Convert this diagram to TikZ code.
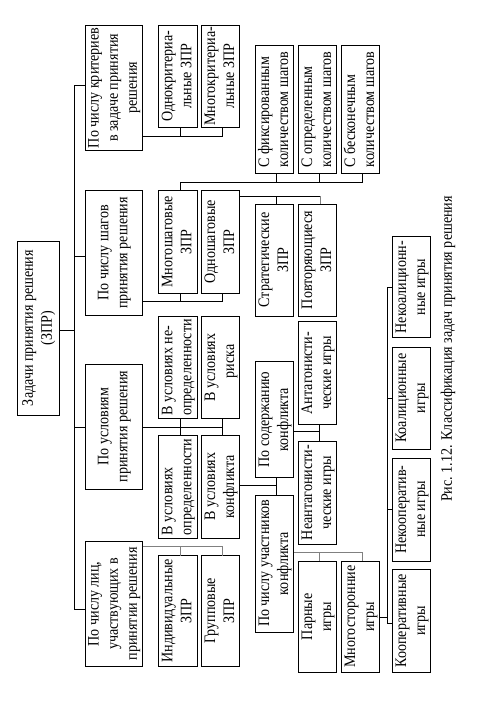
\documentclass[tikz,border=0pt]{standalone}
\usepackage{fontspec}
\setmainfont{Liberation Serif}[FakeStretch=0.88]
\newcommand{\zt}[2][c]{\rotatebox{90}{\begin{tabular}{@{}#1@{}}#2\end{tabular}}}
\newcommand{\zb}[7][c]{\node[zbox, minimum width={(#5-#3)*0.75pt}, minimum height={(#6-#4)*0.75pt}] (#2) at ({(#3+#5)/2},{(#4+#6)/2}) {\zt[#1]{#7}};}
\begin{document}
\begin{tikzpicture}[x=0.75pt,y=-0.75pt,
  zbox/.style={draw, line width=0.75pt, inner sep=0pt, outer sep=0pt, font=\fontsize{12}{14.3}\selectfont},
  conn/.style={line width=0.75pt},
  gconn/.style={line width=0.75pt, draw=black!50},
  captxt/.style={inner sep=0pt, font=\fontsize{12}{14.3}\selectfont}]
\useasboundingbox (0,0) rectangle (480,715);
% root
\zb{Z}{17.7}{241}{59.3}{415}{Задачи принятия решения\\(ЗПР)}
% level 1
\zb{A}{85.7}{25.3}{142.3}{150.3}{По числу критериев\\в задаче принятия\\решения}
\zb{B}{85.7}{190.3}{142.3}{315.7}{По числу шагов\\принятия решения}
\zb{C}{85.7}{364.3}{142.3}{489}{По условиям\\принятия решения}
\zb{D}{85.7}{541.7}{142.3}{666}{По числу лиц,\\участвующих в\\принятии решения}
% level 2
\zb{A1}{159.7}{25.3}{196.3}{127.3}{Однокритериа-\\льные ЗПР}
\zb{A2}{202.3}{25.3}{239.3}{127.3}{Многокритериа-\\льные ЗПР}
\zb{B1}{159.7}{190.3}{196.3}{293.3}{Многошаговые\\ЗПР}
\zb{B2}{202.3}{190.3}{239.3}{293.3}{Одношаговые\\ЗПР}
\zb[l]{C3}{159.7}{316.7}{196.3}{418.3}{В условиях не-\\определенности}
\zb[l]{C4}{202.3}{316.7}{239.3}{418.3}{В условиях\\\quad\ \ риска}
\zb[l]{C1}{159.7}{435.7}{196.3}{538}{В условиях\\определенности}
\zb{C2}{202.3}{435.7}{239.3}{538}{В условиях\\конфликта}
\zb{D1}{159.7}{555.7}{196.3}{666}{Индивидуальные\\ЗПР}
\zb{D2}{202.3}{555.7}{239.3}{666}{Групповые\\ЗПР}
% level 3
\zb[l]{B1a}{256.3}{45.3}{293.3}{173.3}{С фиксированным\\количеством шагов}
\zb[l]{B1b}{299.3}{45.3}{336.3}{173.3}{С определенным\\количеством шагов}
\zb[l]{B1c}{342.3}{45.3}{379.3}{173.3}{С бесконечным\\количеством шагов}
\zb{B2a}{256.3}{204}{293.3}{316}{Стратегические\\ЗПР}
\zb{B2b}{299.3}{204}{336.3}{316}{Повторяющиеся\\ЗПР}
\zb{C2a}{256.3}{361.7}{293.3}{477.7}{По содержанию\\конфликта}
\zb{C2b}{256.3}{495}{293.3}{632}{По числу участников\\конфликта}
\zb{Ant}{299.3}{321.7}{336.3}{424.3}{Антагонисти-\\ческие игры}
\zb{Nant}{299.3}{441}{336.3}{544}{Неантагонисти-\\ческие игры}
\zb{Par}{299.3}{561}{336.3}{672.3}{Парные\\игры}
\zb{Mn}{342.3}{561}{379.3}{672.3}{Многосторонние\\игры}
% level 4
\zb{Nkoal}{393.3}{236.7}{430.5}{337.3}{Некоалиционн-\\ные игры}
\zb{Koal}{393.3}{347.3}{430.5}{449}{Коалиционные\\игры}
\zb{Nkoop}{393.3}{458.3}{430.5}{561}{Некооператив-\\ные игры}
\zb{Koop}{393.3}{569.3}{430.5}{672.3}{Кооперативные\\игры}
% caption
\node[captxt] (cap) at (448,349) {\rotatebox{90}{Рис.~1.12. Классификация задач принятия решения}};
% trunk
\coordinate (T) at (74,330);
\draw[conn] (Z.east |- T) -- (T);
\draw[conn] (A.west |- 0,85.3) -| (T);
\draw[conn] (D.west |- 0,609) -| (T);
\draw[conn] (B.west |- 0,256.7) -- (T |- 0,256.7);
\draw[conn] (C.west |- 0,427.3) -- (T |- 0,427.3);
% A group
\draw[conn] (A.east |- 0,136) -| (222.7,0 |- A2.south);
\draw[conn] (180,0 |- A1.south) -- (180,136);
% B group
\draw[conn] (B.east |- 0,301.3) -| (222.7,0 |- B2.south);
\draw[conn] (180,0 |- B1.south) -- (180,301.3);
% B1 group
\draw[conn] (180,0 |- B1.north) |- (362.3,182) -- (362.3,0 |- B1c.south);
\draw[conn] (276.7,182) -- (276.7,0 |- B1a.south);
\draw[conn] (319.7,182) -- (319.7,0 |- B1b.south);
% B2 group
\draw[conn] (B2.east |- 0,196) -- (320,196);
\draw[conn] (276.7,196) -- (276.7,0 |- B2a.north);
\draw[gconn] (320,196) -- (320,0 |- B2b.north);
% C group
\draw[conn] (C.east |- 0,427.3) -- (222.7,427.3);
\draw[conn] (180,0 |- C3.south) -- (180,0 |- C1.north);
\draw[conn] (222.7,0 |- C4.south) -- (222.7,0 |- C2.north);
% C2 group
\draw[conn] (C2.east |- 0,485.7) -| (276.7,0 |- C2a.south);
\draw[conn] (276.7,0 |- C2a.south) -- (276.7,0 |- C2b.north);
% C2a group
\draw[conn] (C2a.east |- 0,431.7) -- (319.7,431.7);
\draw[conn] (319.7,0 |- Ant.south) -- (319.7,0 |- Nant.north);
% C2b group
\draw[gconn] (C2b.east |- 0,552.3) -| (362.3,0 |- Mn.north);
\draw[gconn] (319.7,552.3) -- (319.7,0 |- Par.north);
% games bus
\draw[conn] (Mn.east |- 0,617.7) -- (387,617.7);
\draw[conn] (Nkoal.west |- 0,287.3) -| (387,623) -- (Koop.west |- 0,623);
\draw[conn] (387,398.3) -- (Koal.west |- 0,398.3);
\draw[conn] (387,509.3) -- (Nkoop.west |- 0,509.3);
% D group
\draw[gconn] (D.east |- 0,546.7) -| (222.7,0 |- D2.north);
\draw[gconn] (180,546.7) -- (180,0 |- D1.north);
\end{tikzpicture}
\end{document}
